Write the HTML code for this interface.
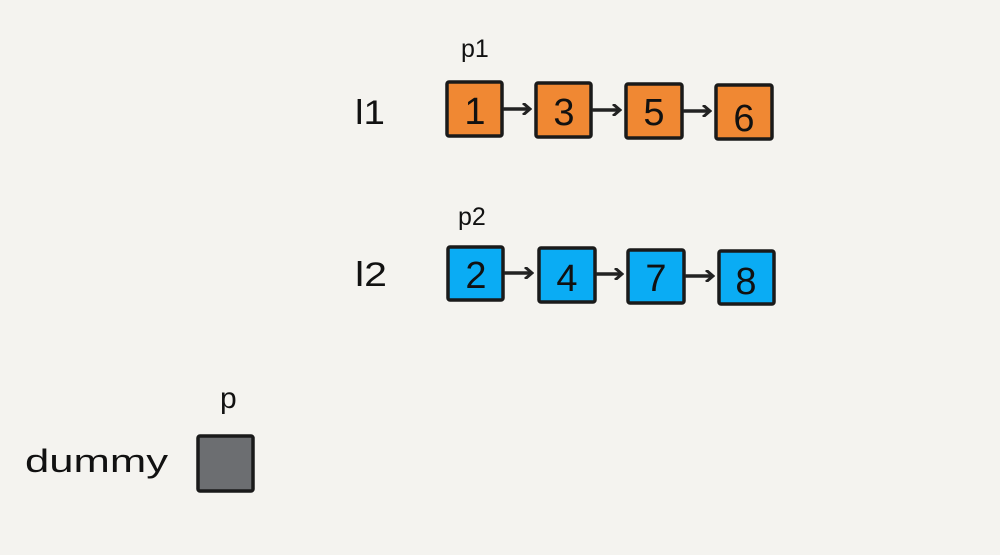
<!DOCTYPE html>
<html><head><style>
body{margin:0;width:1000px;height:550px;background:#f4f3ef;overflow:hidden;font-family:"Liberation Sans",sans-serif;}
</style></head><body>
<svg width="1000" height="550" xmlns="http://www.w3.org/2000/svg">
<defs><marker id="a" markerWidth="10" markerHeight="12" refX="8" refY="6" orient="auto" markerUnits="userSpaceOnUse"><path d="M1,0 L8,6 L1,12" fill="none" stroke="#222" stroke-width="3"/></marker></defs>
<g font-family="Liberation Sans, sans-serif" fill="#111">
<text x="461" y="57" font-size="25">p1</text>
<text x="458" y="225" font-size="25">p2</text>
<text x="355" y="124" font-size="34" textLength="30" lengthAdjust="spacingAndGlyphs">l1</text>
<text x="355" y="286" font-size="34" textLength="32" lengthAdjust="spacingAndGlyphs">l2</text>
<text x="220" y="408" font-size="30">p</text>
<text x="25" y="472" font-size="32" textLength="143" lengthAdjust="spacingAndGlyphs">dummy</text>
</g>
<g stroke="#1a1a1a" stroke-width="3.5" stroke-linejoin="round">
<rect x="447" y="82" width="55" height="54" fill="#f08833" rx="2"/>
<rect x="536" y="83" width="55" height="54" fill="#f08833" rx="2"/>
<rect x="626" y="84" width="56" height="54" fill="#f08833" rx="2"/>
<rect x="716" y="85" width="56" height="54" fill="#f08833" rx="2"/>
<rect x="448" y="247" width="55" height="53" fill="#0aacf4" rx="2"/>
<rect x="539" y="248" width="56" height="54" fill="#0aacf4" rx="2"/>
<rect x="628" y="250" width="56" height="53" fill="#0aacf4" rx="2"/>
<rect x="719" y="251" width="55" height="53" fill="#0aacf4" rx="2"/>
<rect x="198" y="436" width="55" height="55" fill="#6c6e71" rx="2"/>
</g>
<g stroke="#222" stroke-width="3.5" marker-end="url(#a)">
<line x1="503" y1="109" x2="530" y2="109"/>
<line x1="592" y1="110" x2="620" y2="110"/>
<line x1="683" y1="111" x2="710" y2="111"/>
<line x1="504" y1="273" x2="532" y2="273"/>
<line x1="596" y1="274" x2="622" y2="274"/>
<line x1="685" y1="276" x2="713" y2="276"/>
</g>
<g font-family="Liberation Sans, sans-serif" font-size="38" fill="#111" text-anchor="middle">
<text x="475" y="124">1</text><text x="564" y="125">3</text><text x="654" y="125">5</text><text x="744" y="131">6</text>
<text x="476" y="288">2</text><text x="567" y="291">4</text><text x="656" y="291">7</text><text x="746" y="294">8</text>
</g>
</svg>
</body></html>
